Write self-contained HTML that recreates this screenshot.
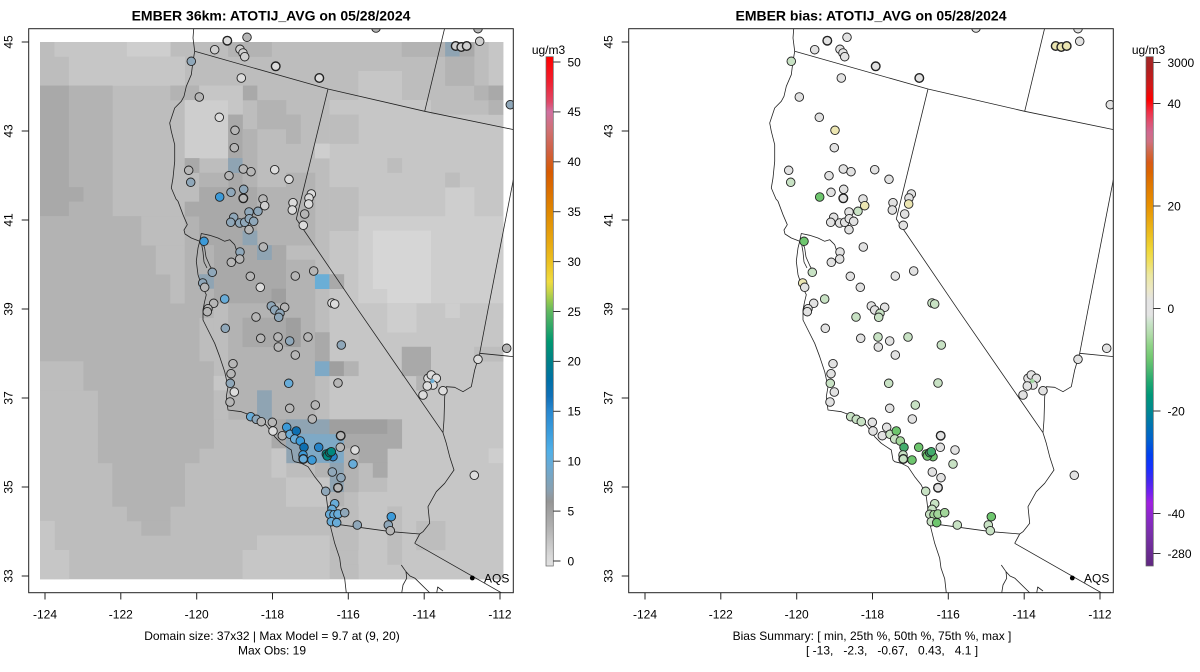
<!DOCTYPE html>
<html><head><meta charset="utf-8">
<style>
html,body{margin:0;padding:0;background:#fff;}
svg{display:block;font-family:"Liberation Sans",Arial,sans-serif;}
.t12{font-size:12px;fill:#000;}
</style></head><body>
<svg id="s" width="1200" height="672" viewBox="0 0 1200 672" xmlns="http://www.w3.org/2000/svg" xmlns:xlink="http://www.w3.org/1999/xlink">
<defs>
<clipPath id="cl"><rect x="29" y="29" width="484.3" height="563.7"/></clipPath>
<clipPath id="cr"><rect x="629" y="29" width="484.3" height="563.7"/></clipPath>
<linearGradient id="gl" x1="0" y1="0" x2="0" y2="1">
<stop offset="0" stop-color="#ff0000"/><stop offset="0.05" stop-color="#f02030"/><stop offset="0.089" stop-color="#e04868"/>
<stop offset="0.108" stop-color="#d070a0"/><stop offset="0.147" stop-color="#d07070"/><stop offset="0.187" stop-color="#d06040"/>
<stop offset="0.226" stop-color="#d85a00"/><stop offset="0.265" stop-color="#dc7000"/><stop offset="0.304" stop-color="#e08800"/>
<stop offset="0.363" stop-color="#e8a810"/><stop offset="0.402" stop-color="#ecc020"/><stop offset="0.442" stop-color="#f0dc40"/>
<stop offset="0.461" stop-color="#c8d448"/><stop offset="0.481" stop-color="#90c850"/><stop offset="0.5" stop-color="#60b860"/>
<stop offset="0.53" stop-color="#30a868"/><stop offset="0.559" stop-color="#009870"/><stop offset="0.598" stop-color="#008088"/>
<stop offset="0.637" stop-color="#0070a8"/><stop offset="0.667" stop-color="#1070b8"/><stop offset="0.696" stop-color="#2888d0"/>
<stop offset="0.736" stop-color="#3a9cdc"/><stop offset="0.775" stop-color="#50b0e8"/><stop offset="0.804" stop-color="#6aaad4"/>
<stop offset="0.834" stop-color="#7ea4bc"/><stop offset="0.853" stop-color="#8aa0b0"/><stop offset="0.873" stop-color="#959595"/>
<stop offset="0.892" stop-color="#a0a0a0"/><stop offset="0.922" stop-color="#b0b0b0"/><stop offset="0.951" stop-color="#c4c4c4"/>
<stop offset="0.98" stop-color="#d8d8d8"/><stop offset="1" stop-color="#e0e0e0"/>
</linearGradient>
<linearGradient id="gr" x1="0" y1="0" x2="0" y2="1">
<stop offset="0" stop-color="#a02828"/><stop offset="0.026" stop-color="#b02020"/><stop offset="0.056" stop-color="#d01818"/>
<stop offset="0.085" stop-color="#ff0000"/><stop offset="0.109" stop-color="#f03048"/><stop offset="0.128" stop-color="#e05070"/>
<stop offset="0.148" stop-color="#d06890"/><stop offset="0.167" stop-color="#d07080"/><stop offset="0.187" stop-color="#d06848"/>
<stop offset="0.207" stop-color="#d85a18"/><stop offset="0.226" stop-color="#dc6400"/><stop offset="0.252" stop-color="#e07800"/>
<stop offset="0.291" stop-color="#e89000"/><stop offset="0.321" stop-color="#eaa810"/><stop offset="0.35" stop-color="#ecc020"/>
<stop offset="0.38" stop-color="#f0d838"/><stop offset="0.403" stop-color="#f0e060"/><stop offset="0.429" stop-color="#ece8a0"/>
<stop offset="0.458" stop-color="#ece8c8"/><stop offset="0.478" stop-color="#e4e4e4"/><stop offset="0.507" stop-color="#e4e4e4"/>
<stop offset="0.521" stop-color="#cce4cc"/><stop offset="0.546" stop-color="#b0dca8"/><stop offset="0.566" stop-color="#90d488"/>
<stop offset="0.592" stop-color="#70c870"/><stop offset="0.615" stop-color="#4cb870"/><stop offset="0.639" stop-color="#20a870"/>
<stop offset="0.664" stop-color="#009878"/><stop offset="0.694" stop-color="#008890"/><stop offset="0.723" stop-color="#0074b0"/>
<stop offset="0.753" stop-color="#0060d0"/><stop offset="0.782" stop-color="#0040f0"/><stop offset="0.808" stop-color="#1830ff"/>
<stop offset="0.831" stop-color="#4028f0"/><stop offset="0.855" stop-color="#7020f0"/><stop offset="0.876" stop-color="#a020e0"/>
<stop offset="0.906" stop-color="#8a28c8"/><stop offset="0.939" stop-color="#7830a8"/><stop offset="1" stop-color="#602880"/>
</linearGradient>
<path id="map" fill="none" stroke="#222" stroke-width="0.8" stroke-linejoin="round" d="
M193.7,29 L193,38 L194.7,51.3 L193,61.3 L191.3,74.7 L186.3,86.3 L184,96.3 L181.3,101.3 L174.7,108 L169.7,123 L171.3,131.3 L174.7,144.7 L174.7,161.3 L173,178 L171.3,188 L176,199 L178,201.3 L183,214.7 L187.3,224.7 L184,230 L185,234 L191.3,238 L199.7,241.3 L198,248 L196.3,261.3 L198,274.7 L201.3,284.7 L206.3,294.7 L204.7,301.3 L203,309.7 L203,320 L208,330 L214.7,343.3 L219.7,356.7 L224.7,371.7 L228,386.7 L226.3,396.7 L228,410 L241.3,411.7 L254.7,416.7 L266.3,425 L274.7,436.7 L281.3,443.3 L286.3,446.7 L291.3,450 L293,460 L294.7,461.7 L301.3,463.3 L308,466.7 L314.7,476.7 L321.3,485 L326.3,496.7 L328,510 L329.7,523.3 L334.7,543.3 L339.7,558.3 L341,568 L344.7,578.7 L346.3,593
M199.7,241.3 L201.3,233.5 L209.7,235.3 L218,238 L224.7,241.3 L229.7,239.7 L234.7,244.7 L236.3,249.7
M199.7,241.3 L204.5,247 L206,257 L210,266 L212.3,270
M201.5,243.5 L203,252 L204,262 L207,268
M194.7,51.3 L328,89 L424.7,111.3 L514,129.7
M424.7,111.3 L444.7,28
M328,89 L296.3,219 L358,309.7 L443,432.7
M514,176.3 L488,309.7 L479.7,353.3 L514,356.7
M479.7,353.3 L474.7,370 L471.3,386.7 L463,391.7 L454.7,387.3 L446.3,386.7 L444.7,396.7 L444,420 L443,432.7 L446.3,443.3 L449.7,456.7 L454,470 L444.7,483.3 L436.3,491.7 L428,506.7 L429.7,523.3 L423,531.7 L419.7,534 L414.7,543.3
M329.7,523.3 L391.3,531.7 L419.7,534
M414.7,543.3 L501.3,592.7
M401.3,565 L406,571.7 L410,576 L415,578.3 L430,593
M406,571.7 L406.7,578.3 L403,585 L401.7,593
M436.7,593 L437.7,587 L443,591"/>
</defs>

<!-- Left panel -->
<g clip-path="url(#cl)">
<g id="ras"></g>
<use xlink:href="#map" href="#map"/>
<g id="cirL"></g>
</g>
<circle cx="472.3" cy="578" r="2.4" fill="#000"/>
<text x="484" y="582.5" class="t12">AQS</text>
<rect x="28.7" y="28.7" width="484.6" height="564" fill="none" stroke="#222" stroke-width="1"/>

<!-- Right panel -->
<g clip-path="url(#cr)">
<use xlink:href="#map" href="#map" x="600" y="0"/>
<g id="cirR"></g>
</g>
<circle cx="1072.3" cy="578" r="2.4" fill="#000"/>
<text x="1084" y="582.5" class="t12">AQS</text>
<rect x="628.7" y="28.7" width="484.6" height="564" fill="none" stroke="#222" stroke-width="1"/>

<!-- Titles -->
<text x="271" y="20.5" text-anchor="middle" style="font-size:14px;font-weight:bold">EMBER 36km: ATOTIJ_AVG on 05/28/2024</text>
<text x="871" y="20.5" text-anchor="middle" style="font-size:14px;font-weight:bold">EMBER bias: ATOTIJ_AVG on 05/28/2024</text>

<!-- Axes ticks -->
<g stroke="#222" stroke-width="1" id="ticks">
<line x1="45" y1="592.7" x2="45" y2="599.5"/><line x1="120.8" y1="592.7" x2="120.8" y2="599.5"/><line x1="196.7" y1="592.7" x2="196.7" y2="599.5"/><line x1="272.5" y1="592.7" x2="272.5" y2="599.5"/><line x1="348.3" y1="592.7" x2="348.3" y2="599.5"/><line x1="424.2" y1="592.7" x2="424.2" y2="599.5"/><line x1="500" y1="592.7" x2="500" y2="599.5"/>
<line x1="645" y1="592.7" x2="645" y2="599.5"/><line x1="720.8" y1="592.7" x2="720.8" y2="599.5"/><line x1="796.7" y1="592.7" x2="796.7" y2="599.5"/><line x1="872.5" y1="592.7" x2="872.5" y2="599.5"/><line x1="948.3" y1="592.7" x2="948.3" y2="599.5"/><line x1="1024.2" y1="592.7" x2="1024.2" y2="599.5"/><line x1="1100" y1="592.7" x2="1100" y2="599.5"/>
<line x1="21.7" y1="576" x2="28.7" y2="576"/><line x1="21.7" y1="487" x2="28.7" y2="487"/><line x1="21.7" y1="398" x2="28.7" y2="398"/><line x1="21.7" y1="309" x2="28.7" y2="309"/><line x1="21.7" y1="220" x2="28.7" y2="220"/><line x1="21.7" y1="131" x2="28.7" y2="131"/><line x1="21.7" y1="42" x2="28.7" y2="42"/>
<line x1="621.7" y1="576" x2="628.7" y2="576"/><line x1="621.7" y1="487" x2="628.7" y2="487"/><line x1="621.7" y1="398" x2="628.7" y2="398"/><line x1="621.7" y1="309" x2="628.7" y2="309"/><line x1="621.7" y1="220" x2="628.7" y2="220"/><line x1="621.7" y1="131" x2="628.7" y2="131"/><line x1="621.7" y1="42" x2="628.7" y2="42"/>
</g>
<g class="t12" text-anchor="middle">
<text x="45" y="618.3">-124</text><text x="120.8" y="618.3">-122</text><text x="196.7" y="618.3">-120</text><text x="272.5" y="618.3">-118</text><text x="348.3" y="618.3">-116</text><text x="424.2" y="618.3">-114</text><text x="500" y="618.3">-112</text>
<text x="645" y="618.3">-124</text><text x="720.8" y="618.3">-122</text><text x="796.7" y="618.3">-120</text><text x="872.5" y="618.3">-118</text><text x="948.3" y="618.3">-116</text><text x="1024.2" y="618.3">-114</text><text x="1100" y="618.3">-112</text>
<text transform="translate(12.5,576) rotate(-90)">33</text><text transform="translate(12.5,487) rotate(-90)">35</text><text transform="translate(12.5,398) rotate(-90)">37</text><text transform="translate(12.5,309) rotate(-90)">39</text><text transform="translate(12.5,220) rotate(-90)">41</text><text transform="translate(12.5,131) rotate(-90)">43</text><text transform="translate(12.5,42) rotate(-90)">45</text>
<text transform="translate(612.5,576) rotate(-90)">33</text><text transform="translate(612.5,487) rotate(-90)">35</text><text transform="translate(612.5,398) rotate(-90)">37</text><text transform="translate(612.5,309) rotate(-90)">39</text><text transform="translate(612.5,220) rotate(-90)">41</text><text transform="translate(612.5,131) rotate(-90)">43</text><text transform="translate(612.5,42) rotate(-90)">45</text>
<text x="272" y="640">Domain size: 37x32 | Max Model = 9.7 at (9, 20)</text>
<text x="272" y="654.5">Max Obs: 19</text>
<text x="872" y="640">Bias Summary: [ min, 25th %, 50th %, 75th %, max ]</text>
<text x="548.5" y="54">ug/m3</text>
<text x="1148.5" y="54">ug/m3</text>
</g>
<text x="806" y="654.5" class="t12" style="white-space:pre" xml:space="preserve">[ -13,   -2.3,   -0.67,   0.43,   4.1 ]</text>

<!-- Colorbars -->
<rect x="546" y="56.7" width="7.3" height="509.3" fill="url(#gl)" stroke="#666" stroke-width="0.7"/>
<rect x="1146" y="56.7" width="7.3" height="509.3" fill="url(#gr)" stroke="#666" stroke-width="0.7"/>
<g stroke="#333" stroke-width="1">
<line x1="553.3" y1="561" x2="560.5" y2="561"/><line x1="553.3" y1="511.1" x2="560.5" y2="511.1"/><line x1="553.3" y1="461.2" x2="560.5" y2="461.2"/><line x1="553.3" y1="411.3" x2="560.5" y2="411.3"/><line x1="553.3" y1="361.4" x2="560.5" y2="361.4"/><line x1="553.3" y1="311.5" x2="560.5" y2="311.5"/><line x1="553.3" y1="261.6" x2="560.5" y2="261.6"/><line x1="553.3" y1="211.7" x2="560.5" y2="211.7"/><line x1="553.3" y1="161.8" x2="560.5" y2="161.8"/><line x1="553.3" y1="111.9" x2="560.5" y2="111.9"/><line x1="553.3" y1="62" x2="560.5" y2="62"/>
<line x1="1153.3" y1="62.5" x2="1160.5" y2="62.5"/><line x1="1153.3" y1="103.5" x2="1160.5" y2="103.5"/><line x1="1153.3" y1="206" x2="1160.5" y2="206"/><line x1="1153.3" y1="308.5" x2="1160.5" y2="308.5"/><line x1="1153.3" y1="411" x2="1160.5" y2="411"/><line x1="1153.3" y1="513.5" x2="1160.5" y2="513.5"/><line x1="1153.3" y1="553.5" x2="1160.5" y2="553.5"/>
</g>
<g class="t12">
<text x="567.5" y="565.3">0</text><text x="567.5" y="515.4">5</text><text x="567.5" y="465.5">10</text><text x="567.5" y="415.6">15</text><text x="567.5" y="365.7">20</text><text x="567.5" y="315.8">25</text><text x="567.5" y="265.9">30</text><text x="567.5" y="216">35</text><text x="567.5" y="166.1">40</text><text x="567.5" y="116.2">45</text><text x="567.5" y="66.3">50</text>
<text x="1167.5" y="66.8">3000</text><text x="1167.5" y="107.8">40</text><text x="1167.5" y="210.3">20</text><text x="1167.5" y="312.8">0</text><text x="1167.5" y="415.3">-20</text><text x="1167.5" y="517.8">-40</text><text x="1167.5" y="557.8">-280</text>
</g>
</svg>
<script>
(function(){
var NS="http://www.w3.org/2000/svg";
function X(c){return 40+14.47*c;}
function Y(r){return 42+14.513*r;}
var C={'1':'#d6d6d6','2':'#cecece','3':'#c6c6c6','4':'#bdbdbd','5':'#b3b3b3','6':'#a9a9a9','7':'#9f9f9f','p':'#8fa4b3','q':'#7ea9c6','r':'#6aaed6'};
var R=[[0,0,31,36,'4'],
[1,0,5,0,'3'],[6,0,8,0,'2'],[2,1,9,2,'3'],
[0,3,1,11,'6'],[2,3,4,9,'5'],[2,10,2,10,'6'],[3,10,4,11,'5'],[2,11,2,11,'5'],
[0,12,9,21,'5'],[7,12,9,13,'4'],[8,14,9,15,'4'],[9,16,9,17,'4'],[10,12,10,17,'5'],
[11,18,11,20,'4'],[10,18,10,21,'5'],
[0,22,2,23,'4'],[3,22,11,23,'5'],[4,24,11,27,'5'],[4,28,10,28,'5'],
[5,29,9,31,'5'],[6,32,8,32,'5'],[7,33,8,33,'5'],[0,33,0,36,'3'],[1,35,1,36,'3'],
[20,5,31,18,'3'],[20,4,26,4,'3'],
[13,0,15,0,'5'],[25,0,27,0,'5'],[28,0,28,0,'p'],[29,0,29,0,'6'],[31,0,31,0,'3'],[28,1,29,2,'5'],[31,1,31,2,'3'],[22,2,24,3,'3'],[14,3,14,3,'6'],[30,3,30,3,'5'],[31,3,31,3,'6'],[31,4,31,4,'5'],
[9,3,10,3,'5'],[10,4,12,7,'2'],[11,3,12,3,'3'],[13,3,13,4,'3'],
[15,4,16,5,'5'],[17,5,17,6,'5'],
[28,10,29,11,'2'],[22,12,31,18,'2'],[23,13,26,16,'1'],[24,17,26,18,'1'],
[24,8,24,8,'4'],[28,9,28,9,'4'],[20,10,21,12,'4'],[19,7,19,7,'2'],[20,5,21,6,'4'],
[13,5,13,9,'6'],[13,8,13,8,'p'],[14,6,14,9,'5'],[10,8,10,8,'6'],[11,9,12,9,'5'],
[11,10,14,13,'6'],[10,11,10,11,'6'],[15,10,16,13,'5'],[14,13,14,13,'p'],
[12,14,16,18,'6'],[15,14,15,14,'p'],[16,17,16,17,'7'],[11,14,11,15,'5'],[11,16,11,16,'p'],[11,17,11,18,'5'],
[17,9,18,13,'5'],[17,15,18,18,'5'],[19,16,19,16,'r'],[20,16,20,16,'6'],
[20,18,31,25,'3'],[24,26,31,36,'3'],[22,31,23,36,'3'],
[12,18,12,20,'4'],[13,18,18,25,'5'],[14,19,16,20,'6'],[17,19,17,20,'7'],[19,20,19,21,'6'],[19,22,19,22,'q'],[20,22,20,22,'7'],[21,22,21,22,'5'],[15,24,15,25,'p'],[12,23,12,23,'3'],[12,24,12,25,'4'],
[24,18,25,19,'2'],[28,18,28,18,'2'],[25,21,26,22,'6'],[26,23,26,23,'5'],[30,21,31,21,'4'],
[16,26,16,27,'6'],[17,26,18,26,'p'],[17,27,17,28,'p'],[18,27,20,28,'q'],[19,26,19,26,'p'],[20,29,20,30,'p'],[19,29,19,30,'5'],[20,31,20,31,'5'],
[20,26,23,26,'7'],[21,27,24,27,'6'],[22,28,23,28,'6'],[23,29,23,29,'6'],[24,26,24,26,'6'],[21,28,21,30,'5'],
[31,28,31,28,'2'],[20,32,21,34,'4'],[24,32,24,35,'4'],[26,33,27,34,'4'],[21,36,21,36,'4'],
[16,28,16,29,'3'],[17,30,19,31,'3'],[15,34,19,34,'3'],[14,35,19,36,'3']];
var g=document.getElementById('ras');
R.forEach(function(a){
  var r=document.createElementNS(NS,'rect');
  var x0=X(a[0]),y0=Y(a[1]),x1=X(a[2]+1),y1=Y(a[3]+1);
  r.setAttribute('x',x0.toFixed(2));r.setAttribute('y',y0.toFixed(2));
  r.setAttribute('width',(Math.min(x1,503)-x0+0.3).toFixed(2));
  r.setAttribute('height',(Math.min(y1,579)-y0+0.3).toFixed(2));
  r.setAttribute('fill',C[a[4]]);g.appendChild(r);
});
var LC={W:'#dcdcdc',L:'#cfcfcf',G:'#b6b6b6',a:'#8fa7b9',b:'#68acd8',c:'#3c9ad8',d:'#2684c8',e:'#0e6fb0',t:'#00877f'};
var RC={g:'#e2e2e2',l:'#c8e2c4',m:'#a2d69a',G:'#6ec66e',D:'#42ac6c',y:'#ece6b2'};
var S="227.3,40.7,W,g,1;247,37.3,G,g,0;214.7,49.7,L,g,0;240,49.3,L,g,0;243,53,L,g,0;244.7,56.7,L,g,0;376,28,G,g,0;478,28.7,G,g,0;455.7,46,L,y,1;461.3,47,L,y,1;466.7,46,L,y,1;479.7,41.3,L,g,0;191.3,61.3,a,l,0;275.7,66.3,W,g,1;319.3,78,W,g,1;241.3,78,W,g,0;510.3,104.7,a,g,0;199.3,97,G,g,0;219.3,117.3,W,g,0;235,130.3,G,y,0;234.3,147.7,G,g,0;188.7,170.3,G,g,0;190.7,182.3,a,l,0;229,175.7,G,g,0;243.3,169,G,g,0;251,171.7,G,g,0;274.7,169.7,W,g,0;289,179.3,W,g,0;219.7,197,c,G,0;231,192.3,a,g,0;243.7,189.3,a,g,0;243.3,198.3,G,g,1;263,199,G,g,0;264.7,205.7,L,y,0;293,202.7,W,g,0;292.3,210,W,g,0;311.3,194,W,g,0;309,198,W,g,0;308.7,204,W,y,0;304.7,214,G,g,0;303.3,225.3,W,g,0;249,212,a,g,0;258,211.3,a,l,0;233.7,217.3,a,g,0;230.7,222.3,a,g,0;239.7,223,a,g,0;244.7,222.3,a,g,0;249.3,218.7,a,g,0;253.7,221.3,a,g,0;249,229.7,G,g,0;204,241.3,c,G,0;263.3,247,G,g,0;240,252,a,g,0;239.7,259,G,g,0;231.3,262.3,G,g,0;212.3,272.3,a,l,0;202.7,283,a,y,0;204.7,287.3,G,g,0;250.3,276.3,G,g,0;295.3,276,G,g,0;313.7,271,G,g,0;260.3,287.3,W,g,0;224.7,299,b,l,0;213.7,303.3,G,g,0;208,308.7,G,g,0;271.3,306,a,g,0;284.7,307.3,G,g,0;332,303,W,l,0;334.7,304,W,l,0;207.3,311.7,G,g,0;256,317,G,l,0;274.7,310,a,g,0;280,313.3,a,l,0;278.7,317.3,a,l,0;225.3,328.3,a,g,0;260.7,338.3,G,g,0;278,337,G,l,0;278.3,347,G,g,0;289.7,341,a,g,0;308,337,G,l,0;341.3,345,a,l,0;295.3,355,G,g,0;506.7,348.3,G,g,0;478,359.3,W,g,0;233,363.7,G,g,0;231,373.7,G,g,0;230.3,383.3,a,l,0;234.3,392,W,g,0;230,402,G,g,0;288.7,383.3,b,l,0;338,383,G,l,0;428,378.3,W,g,0;431.3,375,W,g,0;436.3,378.3,W,g,0;433,385,W,g,0;427.3,386,W,g,0;423,395,W,g,0;443,390.7,W,g,0;289.7,408.3,G,g,0;315.3,405,G,l,0;312.3,419,G,g,0;250.7,416.7,b,l,0;256.3,419.3,a,l,0;261.3,421.7,G,l,0;272.3,422.3,G,g,0;273,431,W,g,0;286.7,427.3,c,g,0;282.3,435.7,G,g,0;290,434.3,b,l,0;296.3,431,e,G,0;294.7,439,b,l,0;300.3,441,c,m,0;304,447.3,e,D,0;318.7,447.3,d,G,0;303,455,c,l,0;303.3,459,b,l,1;312,460,c,G,0;333,456.7,d,G,0;326.3,454,t,G,0;327.3,456,t,G,0;329.7,452.7,t,D,0;331.3,451.7,t,D,0;340.7,435.7,G,g,1;340.3,447.3,G,g,0;355,450,W,g,0;353,464,b,l,0;332.3,472,a,g,0;341,477.7,a,g,0;338,487.7,G,g,1;325.7,491.3,a,l,0;474.3,475.3,W,g,0;334.7,503.7,b,l,0;332,509.3,b,l,0;329.7,514.3,b,l,0;334,514.7,b,m,0;338,514,b,m,0;344.7,512.7,a,m,0;331.3,521.7,b,l,0;336.7,522.7,b,G,0;357.3,525,a,l,0;391.3,516.7,c,G,0;388.3,525,a,l,0;390.3,530.7,G,l,0";
var gl=document.getElementById('cirL'),gr=document.getElementById('cirR');
function circ(p,x,y,f,th,r){
  var c=document.createElementNS(NS,'circle');
  c.setAttribute('cx',x);c.setAttribute('cy',y);c.setAttribute('r',r||4.3);
  c.setAttribute('fill',f);c.setAttribute('stroke','#222');c.setAttribute('stroke-width',th?'1.4':'0.9');
  p.appendChild(c);
}
S.split(';').forEach(function(s){
  var a=s.split(',');var x=parseFloat(a[0]),y=parseFloat(a[1]),th=a[4]==='1';
  circ(gl,x,y,LC[a[2]],th);
  circ(gr,x+600,y,RC[a[3]],th);
});
var d1=document.createElementNS(NS,'circle');d1.setAttribute('cx',432.3);d1.setAttribute('cy',381);d1.setAttribute('r',2);d1.setAttribute('fill','#6aaed6');gl.appendChild(d1);
var d2=document.createElementNS(NS,'circle');d2.setAttribute('cx',1032.3);d2.setAttribute('cy',381);d2.setAttribute('r',2);d2.setAttribute('fill','#a0d8a0');gr.appendChild(d2);
})();
</script>
</body></html>
